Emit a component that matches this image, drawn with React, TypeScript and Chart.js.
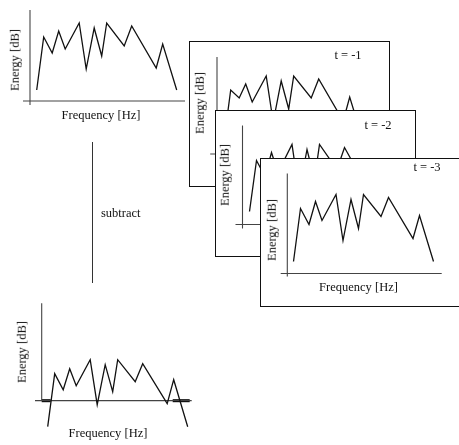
import React, { useEffect, useRef } from "react";
import { Chart, registerables } from "chart.js";

Chart.register(...registerables);

// ---- data (frequency bins in arbitrary Hz units, energy in dB) ----
const frequencyBins = [0, 7, 15.5, 22, 28.5, 42.5, 49.5, 57.5, 65, 70, 87.5, 95, 119.5, 126, 140];
const energyCurrent = [11, 64, 48, 70, 52, 78, 32, 73, 45, 78, 55, 75, 33, 57, 11];
const energyPast1 = [11, 64, 56, 70, 52, 78, 32, 73, 45, 78, 56, 75, 33, 57, 11];
const energyPast2 = [13, 64, 48, 72, 52, 80, 32, 75, 45, 80, 55, 77, 33, 57, 11];
const energyPast3 = [12, 65, 49, 72, 53, 79, 33, 74, 45, 79, 57, 76, 35, 58, 12];
const energySubtracted = [-26, 27, 11, 32, 15, 41, -4, 36, 9, 41, 19, 37, -3, 21, -26];
const floorSegments: [number, number][] = [[-6, 3], [125, 142]];
const frameLabels = ["t = -1", "t = -2", "t = -3"];
const xAxisTitle = "Frequency [Hz]";
const yAxisTitle = "Energy [dB]";
const operationLabel = "subtract";

const FONT = '"Liberation Serif", "Times New Roman", serif';

type Rect = { left: number; top: number; width: number; height: number };
type TextItem = { text: string; x: number; y: number; rotate?: boolean };

interface PanelProps {
  rect: Rect;
  boxed: boolean;
  origin: { x: number; y: number };
  energy: number[];
  yAxisAt: number;
  yAxisTop: number;
  yAxisBottom: number;
  xAxisFrom: number;
  xAxisTo: number;
  thick?: [number, number][];
  texts: TextItem[];
  z: number;
}

function Panel(p: PanelProps) {
  const ref = useRef<HTMLCanvasElement | null>(null);
  const b = p.boxed ? 1 : 0;
  const W = p.rect.width - 2 * b;
  const H = p.rect.height - 2 * b;
  const cLeft = p.rect.left + b;
  const cTop = p.rect.top + b;
  const ox = p.origin.x - cLeft;
  const oy = p.origin.y - cTop;

  useEffect(() => {
    if (!ref.current) return;
    const datasets: any[] = [
      {
        data: frequencyBins.map((f, i) => ({ x: f, y: p.energy[i] })),
        borderColor: "#111",
        borderWidth: 1.3,
        pointRadius: 0,
        tension: 0,
      },
      {
        data: [{ x: p.xAxisFrom, y: 0 }, { x: p.xAxisTo, y: 0 }],
        borderColor: "#444",
        borderWidth: 1.2,
        pointRadius: 0,
      },
      {
        data: [{ x: p.yAxisAt, y: p.yAxisBottom }, { x: p.yAxisAt, y: p.yAxisTop }],
        borderColor: "#444",
        borderWidth: 1.1,
        pointRadius: 0,
      },
    ];
    (p.thick || []).forEach(([a, c]) => {
      datasets.push({
        data: [{ x: a, y: 0 }, { x: c, y: 0 }],
        borderColor: "#000",
        borderWidth: 3,
        pointRadius: 0,
      });
    });
    const chart = new Chart(ref.current, {
      type: "line",
      data: { datasets },
      options: {
        responsive: false,
        animation: false,
        events: [],
        layout: { padding: 0 },
        plugins: { legend: { display: false }, tooltip: { enabled: false }, title: { display: false } },
        scales: {
          x: { type: "linear", display: false, min: -ox, max: W - ox },
          y: { type: "linear", display: false, min: oy - H, max: oy },
        },
      },
    });
    return () => chart.destroy();
  }, []);

  return (
    <div
      style={{
        position: "absolute",
        left: p.rect.left,
        top: p.rect.top,
        width: p.rect.width,
        height: p.rect.height,
        boxSizing: "border-box",
        border: p.boxed ? "1px solid #111" : "none",
        background: p.boxed ? "#fff" : "transparent",
        overflow: p.boxed ? "hidden" : "visible",
        zIndex: p.z,
      }}
    >
      <canvas ref={ref} width={W} height={H} style={{ position: "absolute", left: 0, top: 0, width: W, height: H }} />
      {p.texts.map((t, i) => (
        <div
          key={i}
          style={{
            position: "absolute",
            left: t.x - cLeft,
            top: t.y - cTop,
            transform: t.rotate ? "translate(-50%, -50%) rotate(-90deg)" : "translate(-50%, -50%)",
            whiteSpace: "nowrap",
            font: `12.5px ${FONT}`,
            lineHeight: "1",
            color: "#111",
          }}
        >
          {t.text}
        </div>
      ))}
    </div>
  );
}

export default function App() {
  return (
    <div
      style={{
        position: "absolute",
        left: 0,
        top: 0,
        width: 459,
        height: 445,
        overflow: "hidden",
        background: "#fff",
      }}
    >
      {/* current spectrum */}
      <Panel
        rect={{ left: 0, top: 0, width: 200, height: 125 }}
        boxed={false}
        origin={{ x: 36.7, y: 101 }}
        energy={energyCurrent}
        yAxisAt={-6.7}
        yAxisTop={91}
        yAxisBottom={-4}
        xAxisFrom={-13.7}
        xAxisTo={148.3}
        texts={[
          { text: yAxisTitle, x: 15, y: 60, rotate: true },
          { text: xAxisTitle, x: 101, y: 115 },
        ]}
        z={0}
      />
      {/* past frames */}
      <Panel
        rect={{ left: 189, top: 41, width: 201, height: 146 }}
        boxed
        origin={{ x: 223.7, y: 154 }}
        energy={energyPast1}
        yAxisAt={-6.7}
        yAxisTop={97}
        yAxisBottom={-4}
        xAxisFrom={-13.5}
        xAxisTo={148}
        texts={[
          { text: yAxisTitle, x: 200, y: 103, rotate: true },
          { text: frameLabels[0], x: 348, y: 55 },
          { text: xAxisTitle, x: 290, y: 168 },
        ]}
        z={1}
      />
      <Panel
        rect={{ left: 215, top: 110, width: 201, height: 147 }}
        boxed
        origin={{ x: 249.5, y: 224.5 }}
        energy={energyPast2}
        yAxisAt={-7}
        yAxisTop={99}
        yAxisBottom={-4}
        xAxisFrom={-14}
        xAxisTo={148}
        texts={[
          { text: yAxisTitle, x: 225, y: 175, rotate: true },
          { text: frameLabels[1], x: 378, y: 125 },
          { text: xAxisTitle, x: 315, y: 238 },
        ]}
        z={2}
      />
      <Panel
        rect={{ left: 260, top: 158, width: 230, height: 149 }}
        boxed
        origin={{ x: 293.5, y: 273.5 }}
        energy={energyPast3}
        yAxisAt={-6.2}
        yAxisTop={100}
        yAxisBottom={-3}
        xAxisFrom={-12.8}
        xAxisTo={148.2}
        texts={[
          { text: yAxisTitle, x: 272, y: 230, rotate: true },
          { text: frameLabels[2], x: 427, y: 167 },
          { text: xAxisTitle, x: 358.5, y: 287 },
        ]}
        z={3}
      />
      {/* subtract connector */}
      <div style={{ position: "absolute", left: 92, top: 142, width: 1, height: 141, background: "#333" }} />
      <div
        style={{
          position: "absolute",
          left: 101,
          top: 213,
          transform: "translateY(-50%)",
          font: `12.5px ${FONT}`,
          lineHeight: "1",
          color: "#111",
          whiteSpace: "nowrap",
        }}
      >
        {operationLabel}
      </div>
      {/* subtracted spectrum */}
      <Panel
        rect={{ left: 0, top: 295, width: 210, height: 150 }}
        boxed={false}
        origin={{ x: 47.7, y: 400.7 }}
        energy={energySubtracted}
        yAxisAt={-6}
        yAxisTop={97.4}
        yAxisBottom={0}
        xAxisFrom={-12.7}
        xAxisTo={144}
        thick={floorSegments}
        texts={[
          { text: yAxisTitle, x: 21.7, y: 352, rotate: true },
          { text: xAxisTitle, x: 108, y: 433 },
        ]}
        z={0}
      />
    </div>
  );
}
